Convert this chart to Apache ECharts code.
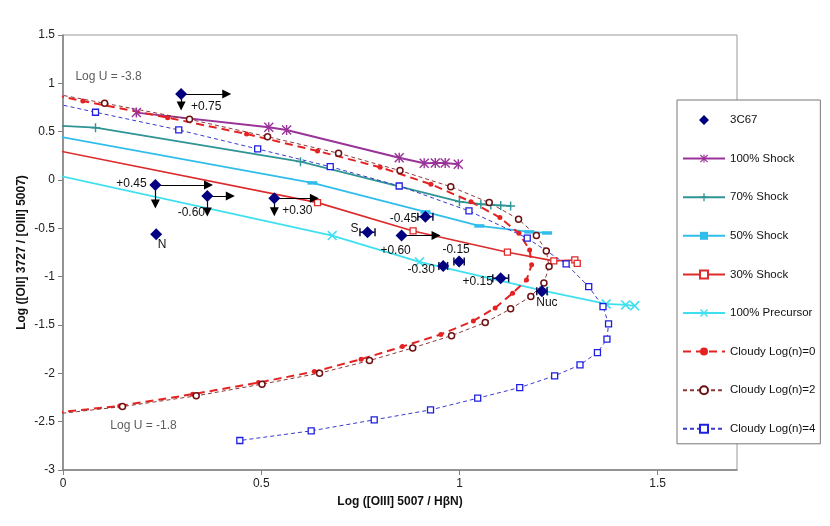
<!DOCTYPE html>
<html><head><meta charset="utf-8">
<script src="https://cdn.jsdelivr.net/npm/echarts@6/dist/echarts.min.js"></script>
<style>html,body{margin:0;padding:0;background:#fff}#c{width:830px;height:526px}</style>
</head><body><div id="c"></div>
<script>
// ---------------- DATA ----------------
// 3C67 observations
const obsX = [0.298, 0.233, 0.364, 0.533, 0.235, 0.768, 0.914, 0.854, 0.959, 0.999, 1.104, 1.208];
const obsY = [0.890, -0.051, -0.165, -0.189, -0.561, -0.540, -0.379, -0.575, -0.889, -0.844, -1.016, -1.152];
const obsLabel = ['+0.75', '+0.45', '-0.60', '+0.30', 'N', 'S', '-0.45', '+0.60', '-0.30', '-0.15', '+0.15', 'Nuc'];
const obsXErr = [0, 0, 0, 0, 0, 0.019, 0.019, 0, 0.011, 0.013, 0.02, 0.013];
const obsRightLimit = [0.115, 0.134, 0.058, 0.101, 0, 0, 0, 0.087, 0, 0, 0, 0];
const obsDownLimit = [0.124, 0.196, 0.165, 0.139, 0, 0, 0, 0, 0, 0, 0, 0];

// Shock models
const shock100X = [0.185, 0.519, 0.564, 0.848, 0.911, 0.939, 0.964, 0.997];
const shock100Y = [0.697, 0.545, 0.518, 0.231, 0.173, 0.176, 0.176, 0.163];
const shock70X = [-0.03, 0.082, 0.599, 1.000, 1.054, 1.079, 1.104, 1.129];
const shock70Y = [0.565, 0.541, 0.190, -0.224, -0.251, -0.258, -0.263, -0.268];
const shock50X = [-0.02, 0.629, 0.914, 1.050, 1.176, 1.221];
const shock50Y = [0.457, -0.030, -0.330, -0.475, -0.537, -0.548];
const shock30X = [-0.02, 0.642, 0.883, 1.121, 1.238, 1.291, 1.297];
const shock30Y = [0.309, -0.234, -0.527, -0.747, -0.837, -0.827, -0.863];
const precX = [-0.02, 0.679, 0.899, 1.213, 1.370, 1.419, 1.442];
const precY = [0.053, -0.575, -0.847, -1.147, -1.282, -1.292, -1.302];

// Cloudy models
const c0X = [-0.05, 0.050, 0.264, 0.463, 0.642, 0.800, 0.928, 1.029, 1.102, 1.150, 1.177, 1.182, 1.169, 1.134, 1.090, 1.035, 0.953, 0.856, 0.752, 0.634, 0.493, 0.327, 0.143, -0.05];
const c0Y = [0.905, 0.817, 0.645, 0.476, 0.300, 0.132, -0.044, -0.224, -0.389, -0.551, -0.723, -0.878, -1.034, -1.171, -1.323, -1.458, -1.597, -1.723, -1.854, -1.982, -2.096, -2.216, -2.337, -2.42];
const c2X = [-0.05, 0.105, 0.319, 0.516, 0.695, 0.850, 0.978, 1.075, 1.149, 1.194, 1.219, 1.226, 1.213, 1.180, 1.129, 1.065, 0.980, 0.882, 0.773, 0.647, 0.502, 0.336, 0.150, -0.05];
const c2Y = [0.914, 0.794, 0.628, 0.448, 0.277, 0.097, -0.069, -0.234, -0.406, -0.575, -0.734, -0.896, -1.065, -1.204, -1.333, -1.475, -1.610, -1.737, -1.868, -1.998, -2.112, -2.233, -2.344, -2.435];
const c4X = [-0.05, 0.082, 0.292, 0.491, 0.674, 0.848, 1.024, 1.171, 1.269, 1.326, 1.362, 1.376, 1.372, 1.348, 1.304, 1.240, 1.152, 1.046, 0.927, 0.785, 0.626, 0.446];
const c4Y = [0.819, 0.701, 0.518, 0.321, 0.138, -0.062, -0.320, -0.602, -0.868, -1.103, -1.310, -1.489, -1.647, -1.785, -1.913, -2.026, -2.147, -2.257, -2.378, -2.481, -2.595, -2.695];

// Annotations
const annotText = ['Log U = -3.8', 'Log U = -1.8'];
const annotX = [0.115, 0.203];
const annotY = [1.069, -2.543];

// Axis ranges
const xMin = 0, xMax = 1.7, xStep = 0.5;
const yMin = -3, yMax = 1.5, yStep = 0.5;

// ---------------- STYLE / LAYOUT ----------------
const FONT = 'Liberation Sans, Arial, sans-serif';
const labelOffsets = [[25, 13], [-24, -1], [-16, 17], [23, 12], [6, 10], [-13, -4], [-22, 2], [-6, 15], [-22, 4], [-3, -12], [-23, 3], [5, 11]];
const pairs = (xs, ys) => xs.map((x, i) => [x, ys[i]]);

const P_STAR = 'path://M4.3 0 L5.7 0 L5.7 10 L4.3 10 Z M0 1 L1 0 L10 9 L9 10 Z M9 0 L10 1 L1 10 L0 9 Z';
const P_PLUS = 'path://M4.2 0 L5.8 0 L5.8 4.2 L10 4.2 L10 5.8 L5.8 5.8 L5.8 10 L4.2 10 L4.2 5.8 L0 5.8 L0 4.2 L4.2 4.2 Z';
const P_X = 'path://M0 1.2 L1.2 0 L10 8.8 L8.8 10 Z M8.8 0 L10 1.2 L1.2 10 L0 8.8 Z';
const ICON_DIAMOND = 'path://M0 5 L0.01 5 L0 5.01 Z M42 5 L41.99 5 L42 5.01 Z M21 0 L26 5 L21 10 L16 5 Z';

function lineSeries(name, xs, ys, color, width, type, symbol, size, itemStyle, z) {
  return {
    name, type: 'line', data: pairs(xs, ys), smooth: false, clip: true,
    symbol, symbolSize: size, showSymbol: true, z: z || 2,
    lineStyle: { color, width, type },
    itemStyle: Object.assign({ color }, itemStyle || {}),
    emphasis: { disabled: true }
  };
}

const obsData = obsX.map((x, i) => ({
  value: [x, obsY[i]], name: obsLabel[i],
  label: { offset: labelOffsets[i] }
}));

const errData = [];
obsX.forEach((x, i) => { if (obsXErr[i] > 0) errData.push([x, obsY[i], obsXErr[i]]); });

const arrowData = [];
obsX.forEach((x, i) => {
  if (obsRightLimit[i] > 0) arrowData.push({ coords: [[x, obsY[i]], [x + obsRightLimit[i], obsY[i]]] });
  if (obsDownLimit[i] > 0) arrowData.push({ coords: [[x, obsY[i]], [x, obsY[i] - obsDownLimit[i]]] });
});

const series = [
  {
    name: '3C67', type: 'scatter', data: obsData, symbol: 'diamond', symbolSize: 12, z: 10,
    itemStyle: { color: '#000080', opacity: 1 },
    label: { show: true, position: 'inside', formatter: p => p.name, color: '#111', fontSize: 12, fontFamily: FONT },
    emphasis: { disabled: true }
  },
  lineSeries('100% Shock', shock100X, shock100Y, '#993399', 2, 'solid', P_STAR, 10),
  lineSeries('70% Shock', shock70X, shock70Y, '#2E9494', 1.8, 'solid', P_PLUS, 9),
  lineSeries('50% Shock', shock50X, shock50Y, '#30BDEB', 1.8, 'solid', 'rect', [10, 3.5]),
  lineSeries('30% Shock', shock30X, shock30Y, '#DD2A2A', 1.6, 'solid', 'rect', 6, { color: '#fff', borderColor: '#DD2A2A', borderWidth: 1.3 }),
  lineSeries('100% Precursor', precX, precY, '#3FE0EE', 1.8, 'solid', P_X, 10),
  lineSeries('Cloudy Log(n)=0', c0X, c0Y, '#E42222', 2, [8, 5], 'circle', 5),
  lineSeries('Cloudy Log(n)=2', c2X, c2Y, '#8A3A3A', 1, [4, 3], 'circle', 6, { color: '#fff', borderColor: '#6E1010', borderWidth: 1.5 }),
  lineSeries('Cloudy Log(n)=4', c4X, c4Y, '#3A3ACC', 1, [4, 3], 'rect', 6, { color: '#fff', borderColor: '#1F1FE0', borderWidth: 1.3 }),
  {
    name: 'errbars', type: 'custom', data: errData, z: 9, encode: { x: 0, y: 1 },
    renderItem: (params, api) => {
      const x = api.value(0), y = api.value(1), e = api.value(2);
      const p1 = api.coord([x - e, y]), p2 = api.coord([x + e, y]);
      const h = 4, st = { stroke: '#101040', lineWidth: 1.5 };
      return { type: 'group', children: [
        { type: 'line', shape: { x1: p1[0], y1: p1[1], x2: p2[0], y2: p2[1] }, style: st },
        { type: 'line', shape: { x1: p1[0], y1: p1[1] - h, x2: p1[0], y2: p1[1] + h }, style: st },
        { type: 'line', shape: { x1: p2[0], y1: p2[1] - h, x2: p2[0], y2: p2[1] + h }, style: st }
      ] };
    }
  },
  {
    name: 'limits', type: 'lines', coordinateSystem: 'cartesian2d', data: arrowData, z: 9,
    symbol: ['none', 'triangle'], symbolSize: 9,
    lineStyle: { color: '#000', width: 1.2, opacity: 1 }, silent: true
  },
  {
    name: 'annot', type: 'scatter', symbolSize: 0, silent: true, z: 3,
    data: annotX.map((x, i) => ({ value: [x, annotY[i]], name: annotText[i] })),
    label: { show: true, position: 'inside', formatter: p => p.name, color: '#333', fontSize: 12, fontFamily: FONT }
  }
];

const option = {
  animation: false,
  backgroundColor: '#fff',
  textStyle: { fontFamily: FONT },
  grid: { left: 63, right: 93, top: 35, bottom: 56, show: true, borderColor: '#999', borderWidth: 1 },
  xAxis: {
    type: 'value', min: xMin, max: xMax, interval: xStep,
    name: 'Log ([OIII] 5007 / H\u03B2N)', nameLocation: 'middle', nameGap: 26, nameMoveOverlap: false,
    nameTextStyle: { fontWeight: 'bold', fontSize: 12, color: '#111', fontFamily: FONT },
    axisLine: { show: true, onZero: false, lineStyle: { color: '#808080', width: 1.5 } },
    axisTick: { show: true, length: 5, lineStyle: { color: '#808080' } },
    axisLabel: { showMaxLabel: false, fontSize: 12, color: '#222', margin: 8, fontFamily: FONT },
    splitLine: { show: false }
  },
  yAxis: {
    type: 'value', min: yMin, max: yMax, interval: yStep,
    name: 'Log ([OII] 3727 / [OIII] 5007)', nameLocation: 'middle', nameGap: 35, nameMoveOverlap: false,
    nameTextStyle: { fontWeight: 'bold', fontSize: 12, color: '#111', fontFamily: FONT },
    axisLine: { show: true, onZero: false, lineStyle: { color: '#808080', width: 1.5 } },
    axisTick: { show: true, length: 5, lineStyle: { color: '#808080' } },
    axisLabel: { fontSize: 12, color: '#222', margin: 8, fontFamily: FONT },
    splitLine: { show: false }
  },
  legend: {
    orient: 'vertical', left: 677, top: 100,
    padding: [14, 5, 9, 5], itemGap: 26.6, itemWidth: 42, itemHeight: 10,
    backgroundColor: '#fff', borderColor: '#777', borderWidth: 1,
    textStyle: { fontSize: 11.5, color: '#111', fontFamily: FONT },
    data: [{ name: '3C67', icon: ICON_DIAMOND }, '100% Shock', '70% Shock', '50% Shock', '30% Shock', '100% Precursor', 'Cloudy Log(n)=0', 'Cloudy Log(n)=2', 'Cloudy Log(n)=4'],
    selectedMode: false
  },
  series
};

const chart = echarts.init(document.getElementById('c'), null, { renderer: 'canvas' });
chart.setOption(option);
</script>
</body></html>
